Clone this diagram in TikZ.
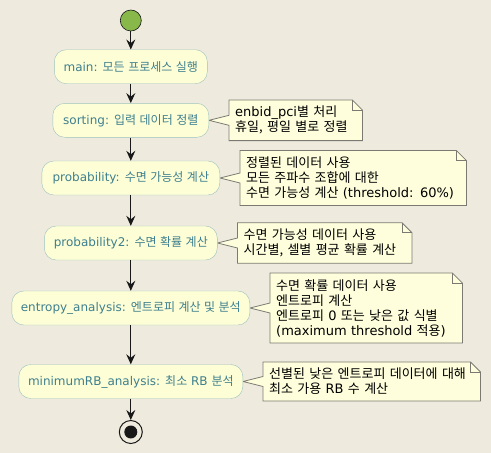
\documentclass[tikz,border=0pt]{standalone}
\usepackage{fontspec}
\setmainfont{DejaVu Sans}
\newfontfamily\krfont[Scale=1.0,WordSpace=1.3]{Noto Sans CJK KR}
\newcommand{\ko}[1]{{\krfont #1}}
\usetikzlibrary{positioning,arrows.meta,backgrounds}

\definecolor{umlbg}{HTML}{EEEBDE}
\definecolor{actfill}{HTML}{FEFED6}
\definecolor{actline}{HTML}{9CC0BE}
\definecolor{acttext}{HTML}{3D7F8E}
\definecolor{notefill}{HTML}{FEFEDC}
\definecolor{noteedge}{HTML}{7A7A72}
\definecolor{startgreen}{HTML}{88B84A}
\definecolor{flowline}{HTML}{181818}

\tikzset{
  activity/.style={draw=actline, fill=actfill, text=acttext, rounded corners=12pt,
    minimum height=34pt, inner xsep=4pt, font=\fontsize{12}{14}\selectfont},
  note/.style={inner xsep=6pt, inner ysep=6pt, align=left, font=\fontsize{13}{15}\selectfont},
  notebox/.style={draw=noteedge, fill=notefill, line width=0.8pt},
  flow/.style={draw=flowline, line width=1pt, -{Stealth[length=10pt,width=9pt,inset=3.5pt]}},
  startdot/.style={circle, draw=flowline, fill=startgreen, minimum size=21pt, inner sep=0pt, line width=0.6pt},
  enddot/.style={circle, draw=flowline, fill=umlbg, minimum size=23pt, inner sep=0pt, line width=1pt,
    path picture={\fill[flowline] (path picture bounding box.center) circle (6.5pt);}},
}

\begin{document}
\begin{tikzpicture}[x=1pt,y=-1pt]
\useasboundingbox (0,0) rectangle (491,453);

% activities
\node[startdot] (start) at (130.8,20.5) {};
\node[activity, minimum width=153pt] (main) at (130.8,66.7) {main: \ko{모든 프로세스 실행}};
\node[activity, minimum width=156pt] (sorting) at (130.8,120.3) {sorting: \ko{입력 데이터 정렬}};
\node[activity, minimum width=178pt] (prob) at (130.8,178) {probability: \ko{수면 가능성 계산}};
\node[activity, minimum width=173pt] (probtwo) at (130.8,243) {probability2: \ko{수면 확률 계산}};
\node[activity, minimum width=238pt] (entropy) at (130.8,308) {entropy\_analysis: \ko{엔트로피 계산 및 분석}};
\node[activity, minimum width=224pt] (minrb) at (130.8,381.5) {minimumRB\_analysis: \ko{최소} RB \ko{분석}};
\node[enddot] (stop) at (130.8,432) {};

% notes
\node[note, right=20pt of sorting, text width=121pt] (sortnote)
  {enbid\_pci\ko{별 처리}\\\ko{휴일, 평일 별로 정렬}};
\node[note, right=20pt of prob, text width=214pt] (probnote)
  {\ko{정렬된 데이터 사용}\\\ko{모든 주파수 조합에 대한}\\\ko{수면 가능성 계산} (threshold: 60\%)};
\node[note, right=20pt of probtwo, text width=162pt] (probtwonote)
  {\ko{수면 가능성 데이터 사용}\\\ko{시간별, 셀별 평균 확률 계산}};
\node[note, right=20pt of entropy, text width=180pt] (entropynote)
  {\ko{수면 확률 데이터 사용}\\\ko{엔트로피 계산}\\\ko{엔트로피} 0 \ko{또는 낮은 값 식별}\\(maximum threshold \ko{적용})};
\node[note, right=20pt of minrb, text width=205pt] (minrbnote)
  {\ko{선별된 낮은 엔트로피 데이터에 대해}\\\ko{최소 가용} RB \ko{수 계산}};

\begin{pgfonlayer}{background}
\fill[umlbg] (0,0) rectangle (491,453);
\foreach \n/\a in {sortnote/sorting, probnote/prob, probtwonote/probtwo, entropynote/entropy, minrbnote/minrb} {
  \path[notebox] (\n.north west) -- ([xshift=-10pt]\n.north east) -- ([yshift=-10pt]\n.north east)
    -- (\n.south east) -- (\n.south west) -- ([yshift=-5pt]\n.west) -- (\a.east)
    -- ([yshift=5pt]\n.west) -- cycle;
  \draw[noteedge, line width=0.8pt] ([xshift=-10pt]\n.north east) |- ([yshift=-10pt]\n.north east);
}
\end{pgfonlayer}

% flow
\draw[flow] (start) -- (main);
\draw[flow] (main) -- (sorting);
\draw[flow] (sorting) -- (prob);
\draw[flow] (prob) -- (probtwo);
\draw[flow] (probtwo) -- (entropy);
\draw[flow] (entropy) -- (minrb);
\draw[flow] (minrb) -- (stop);
\end{tikzpicture}
\end{document}
